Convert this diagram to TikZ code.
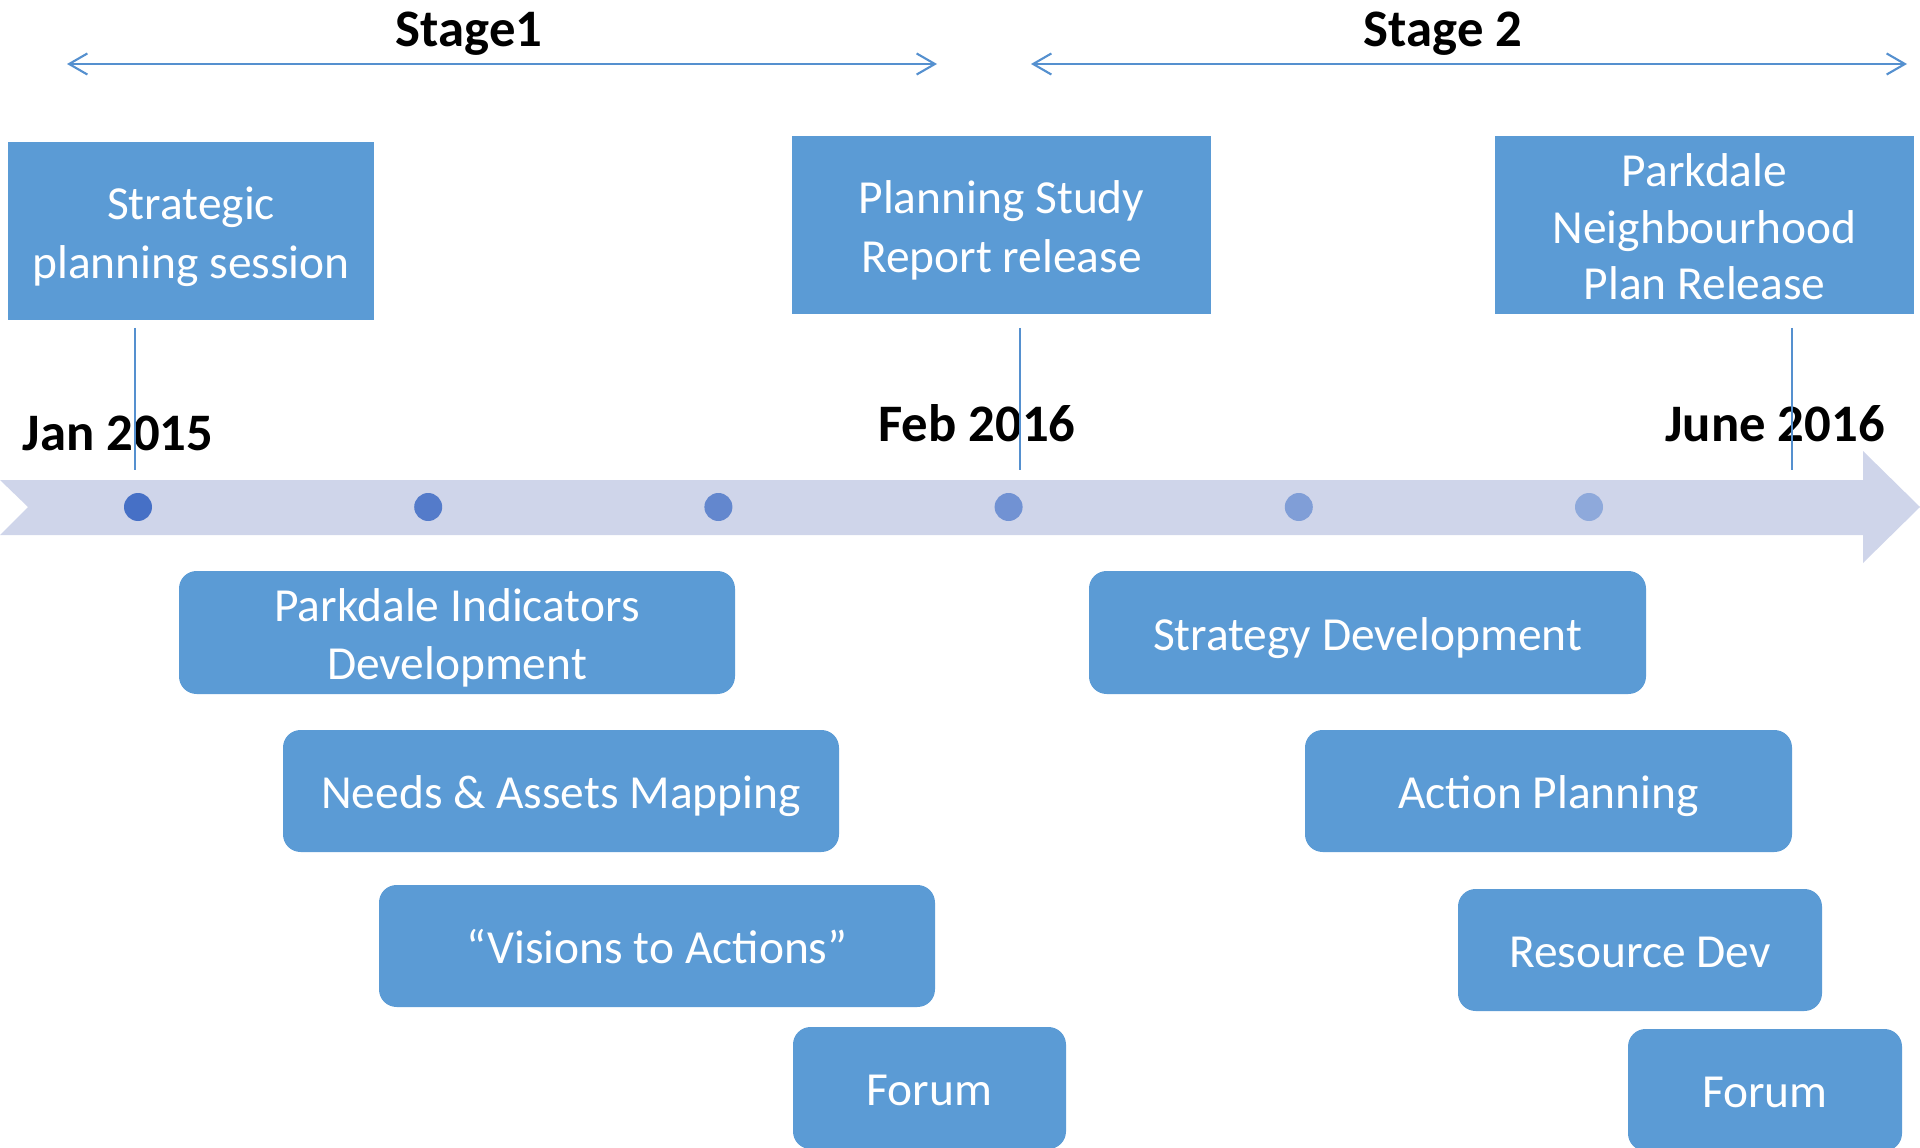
\documentclass[tikz,border=0pt]{standalone}
\usepackage{fontspec}
\setmainfont{Carlito}
\usetikzlibrary{arrows.meta}

\definecolor{boxblue}{HTML}{5B9BD5}
\definecolor{bandgrey}{HTML}{CFD5EA}
\definecolor{dotdark}{HTML}{4670C6}
\definecolor{dotlight}{HTML}{8EA9DB}
\definecolor{tickblue}{HTML}{5590CF}

\begin{document}
\begin{tikzpicture}[
                    x=0.1mm,
                    y=-0.1mm,
                    >={Straight Barb[length=5.2pt,width=6pt]},
                    textdrop/.style={execute at begin node={\rule{0pt}{#1}}},
                    milestone/.style={fill=boxblue, text=white, align=center, inner sep=0pt,
                                      font=\fontsize{13.5}{16.7}\selectfont,
                                      textdrop=1.01em,
                                      execute at end node={\rule[-0.256em]{0pt}{0.256em}}},
                    phase/.style={milestone, rounded corners=5pt},
                    datelabel/.style={font=\fontsize{15}{18}\selectfont\bfseries, anchor=base, inner sep=0pt},
                    dot/.style={circle, inner sep=0pt, minimum size=2.8mm},
                ]
                \useasboundingbox (0,0) rectangle (1920,1148);
                \clip (0,0) rectangle (1920,1148);

                \coordinate (s1l) at (67,64);
                \coordinate (s1r) at (937,64);
                \coordinate (s2l) at (1031,64);
                \coordinate (s2r) at (1907,64);
                \draw[<->, tickblue, line width=0.6pt] (s1l) -- (s1r);
                \draw[<->, tickblue, line width=0.6pt] (s2l) -- (s2r);
                \node[datelabel] (stageA) at (469,47) {Stage1};
                \node[datelabel] (stageB) at (1443,47) {Stage 2};

                \node[milestone, textdrop=2.25em, minimum width=36.6mm, minimum height=17.8mm] (strat) at (191,231) {Strategic\\planning session};
                \node[milestone, textdrop=2.25em, minimum width=41.9mm, minimum height=17.8mm] (study) at (1001.5,225) {Planning Study\\Report release};
                \node[milestone, textdrop=3.40em, minimum width=41.9mm, minimum height=17.8mm,
                      font=\fontsize{13.5}{16.1}\selectfont] (plan) at (1704.5,225) {Parkdale\\Neighbourhood\\Plan Release};

                \fill[bandgrey] (0,480) -- (1863,480) -- (1863,451) -- (1920,507) -- (1863,563) -- (1863,535) -- (0,535) -- (28,507) -- cycle;
                \foreach \i in {0,...,5}{
                    \pgfmathtruncatemacro{\mix}{100-20*\i}
                    \node[dot, fill=dotdark!\mix!dotlight] (d\i) at (138+290.2*\i,507) {};
                }

                \node[datelabel] (jan) at (118,450) {Jan 2015};
                \node[datelabel] (feb) at (977,442) {Feb 2016};
                \node[datelabel] (june) at (1775,442) {June 2016};

                \coordinate (t1a) at (135,328);
                \coordinate (t1b) at (135,470);
                \coordinate (t2a) at (1020,328);
                \coordinate (t2b) at (1020,470);
                \coordinate (t3a) at (1792,328);
                \coordinate (t3b) at (1792,470);
                \draw[tickblue, line width=0.6pt] (t1a) -- (t1b);
                \draw[tickblue, line width=0.6pt] (t2a) -- (t2b);
                \draw[tickblue, line width=0.6pt] (t3a) -- (t3b);

                \node[phase, textdrop=2.25em, minimum width=55.6mm, minimum height=12.3mm] (indic) at (457,632.5) {Parkdale Indicators\\Development};
                \node[phase, minimum width=55.6mm, minimum height=12.2mm] (needs) at (561,791) {Needs \& Assets Mapping};
                \node[phase, minimum width=55.6mm, minimum height=12.2mm] (vision) at (657,946) {“Visions to Actions”};
                \node[phase, minimum width=27.3mm, minimum height=12.2mm] (forumA) at (929.5,1088) {Forum};

                \node[phase, minimum width=55.7mm, minimum height=12.3mm] (strategy) at (1367.5,632.5) {Strategy Development};
                \node[phase, minimum width=48.7mm, minimum height=12.2mm] (action) at (1548.5,791) {Action Planning};
                \node[phase, minimum width=36.4mm, minimum height=12.2mm] (resource) at (1640,950) {Resource Dev};
                \node[phase, minimum width=27.4mm, minimum height=12.2mm] (forumB) at (1765,1090) {Forum};
\end{tikzpicture}
\end{document}
